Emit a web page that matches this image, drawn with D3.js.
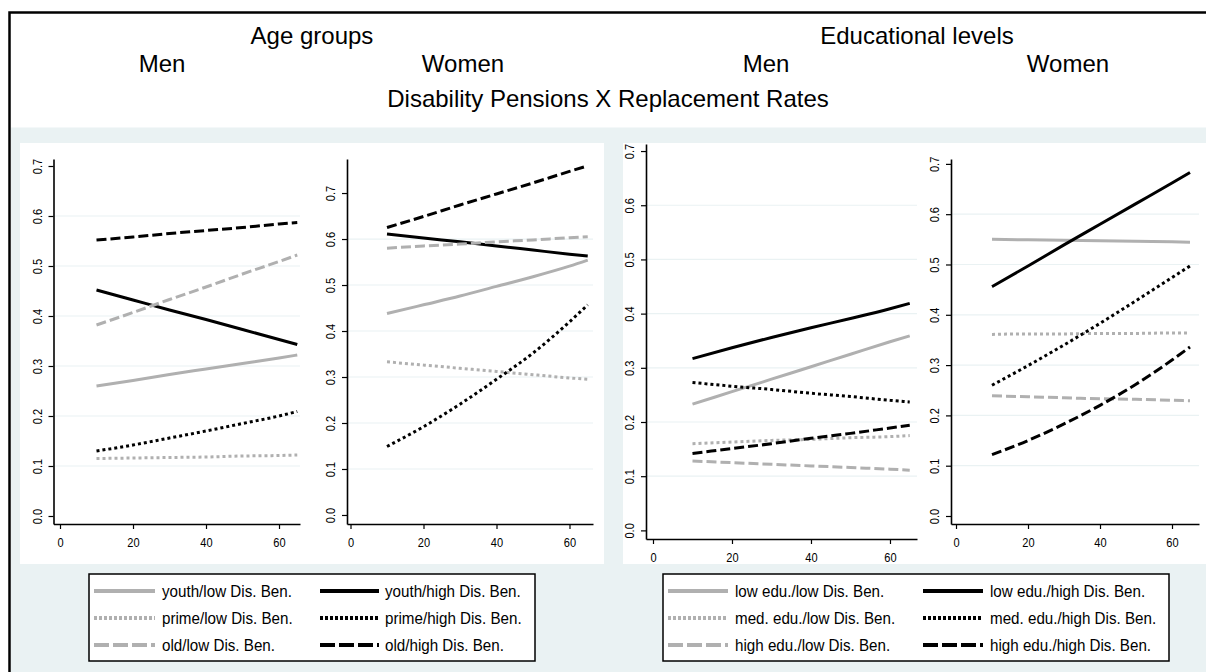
<!DOCTYPE html>
<html>
<head>
<meta charset="utf-8">
<script src="https://cdn.jsdelivr.net/npm/d3@7"></script>
<style>
  html, body { margin: 0; padding: 0; background: #ffffff; }
  svg { display: block; font-family: "Liberation Sans", Arial, sans-serif; }
</style>
</head>
<body>
<svg id="chart" width="1206" height="672"></svg>
<script>
// ---- data -------------------------------------------------------------
// replacement rate values at which the predictions are evaluated
const xValues = [10, 20, 30, 40, 50, 60, 65];

const ageLabels = [
  "youth/low Dis. Ben.", "youth/high Dis. Ben.",
  "prime/low Dis. Ben.", "prime/high Dis. Ben.",
  "old/low Dis. Ben.",   "old/high Dis. Ben."
];
const eduLabels = [
  "low edu./low Dis. Ben.",  "low edu./high Dis. Ben.",
  "med. edu./low Dis. Ben.", "med. edu./high Dis. Ben.",
  "high edu./low Dis. Ben.", "high edu./high Dis. Ben."
];

// predicted probabilities, one row per series (same order as the labels)
const menAge = [
  [0.260, 0.271, 0.283, 0.294, 0.305, 0.316, 0.322],
  [0.452, 0.432, 0.412, 0.393, 0.373, 0.353, 0.343],
  [0.115, 0.116, 0.117, 0.118, 0.120, 0.121, 0.122],
  [0.130, 0.142, 0.156, 0.170, 0.185, 0.200, 0.209],
  [0.382, 0.407, 0.433, 0.458, 0.484, 0.509, 0.522],
  [0.552, 0.558, 0.565, 0.571, 0.577, 0.584, 0.587]
];
const womenAge = [
  [0.438, 0.457, 0.476, 0.497, 0.518, 0.541, 0.554],
  [0.611, 0.602, 0.594, 0.585, 0.576, 0.567, 0.563],
  [0.333, 0.326, 0.319, 0.312, 0.305, 0.298, 0.295],
  [0.149, 0.192, 0.241, 0.295, 0.352, 0.420, 0.457],
  [0.580, 0.585, 0.589, 0.594, 0.598, 0.603, 0.605],
  [0.625, 0.649, 0.674, 0.698, 0.722, 0.747, 0.759]
];
const menEdu = [
  [0.233, 0.256, 0.279, 0.302, 0.325, 0.348, 0.359],
  [0.317, 0.337, 0.356, 0.374, 0.391, 0.409, 0.419],
  [0.160, 0.163, 0.166, 0.168, 0.171, 0.173, 0.175],
  [0.273, 0.266, 0.260, 0.253, 0.247, 0.240, 0.237],
  [0.128, 0.125, 0.122, 0.119, 0.116, 0.113, 0.111],
  [0.142, 0.151, 0.160, 0.170, 0.179, 0.189, 0.194]
];
const womenEdu = [
  [0.550, 0.549, 0.548, 0.547, 0.546, 0.545, 0.544],
  [0.456, 0.497, 0.539, 0.580, 0.621, 0.662, 0.683],
  [0.361, 0.362, 0.362, 0.363, 0.363, 0.364, 0.364],
  [0.260, 0.299, 0.340, 0.383, 0.428, 0.474, 0.497],
  [0.239, 0.237, 0.235, 0.233, 0.232, 0.230, 0.229],
  [0.122, 0.150, 0.183, 0.220, 0.262, 0.310, 0.336]
];

const xTicks = [0, 20, 40, 60];
const yTicks = [0, 0.1, 0.2, 0.3, 0.4, 0.5, 0.6, 0.7];
const gridTicks = [0.1, 0.2, 0.3, 0.4, 0.5, 0.6];

// ---- styles ------------------------------------------------------------
const GREY = "#b0b0b0";
const BG = "#eaf2f3";
const seriesColor = i => (i % 2 === 0 ? GREY : "#000000");
const seriesDash = i => [null, "3,3", "10,4"][Math.floor(i / 2)];
const legendDash = i => [null, "3,2", "15,4"][Math.floor(i / 2)];

// ---- layout -------------------------------------------------------------
const panels = [
  { values: menAge,   left: 53.5, right: 300,  top: 159, bottom: 524, xDomain: [-1.78, 65.75], yDomain: [-0.016, 0.714] },
  { values: womenAge, left: 347,  right: 593,  top: 159, bottom: 524, xDomain: [-0.96, 66.44], yDomain: [-0.0196, 0.774] },
  { values: menEdu,   left: 646,  right: 917,  top: 144, bottom: 539, xDomain: [-1.77, 66.84], yDomain: [-0.0159, 0.713] },
  { values: womenEdu, left: 951,  right: 1199, top: 159, bottom: 524, xDomain: [-1.39, 67.5],  yDomain: [-0.0159, 0.7097] }
];

const svg = d3.select("#chart");

// background regions
svg.append("rect").attr("x", 0).attr("y", 0).attr("width", 1206).attr("height", 672).attr("fill", "#ffffff");
svg.append("rect").attr("x", 11).attr("y", 127.5).attr("width", 1195).attr("height", 545).attr("fill", BG);
svg.append("rect").attr("x", 20).attr("y", 143).attr("width", 584).attr("height", 421).attr("fill", "#ffffff");
svg.append("rect").attr("x", 623).attr("y", 143).attr("width", 583).attr("height", 421).attr("fill", "#ffffff");
svg.append("rect").attr("x", 9.5).attr("y", 12.5).attr("width", 1300).attr("height", 800)
  .attr("fill", "none").attr("stroke", "#000").attr("stroke-width", 2.5);

// header titles
const header = [
  { t: "Age groups", x: 312, y: 44 },
  { t: "Educational levels", x: 917, y: 44 },
  { t: "Men", x: 162, y: 72 },
  { t: "Women", x: 463, y: 72 },
  { t: "Men", x: 766, y: 72 },
  { t: "Women", x: 1068, y: 72 },
  { t: "Disability Pensions X Replacement Rates", x: 608, y: 107 }
];
svg.append("g").selectAll("text").data(header).join("text")
  .attr("x", d => d.x).attr("y", d => d.y)
  .attr("text-anchor", "middle")
  .attr("font-size", 24).attr("fill", "#000")
  .text(d => d.t);

// panels
panels.forEach(p => {
  const x = d3.scaleLinear().domain(p.xDomain).range([p.left, p.right]);
  const y = d3.scaleLinear().domain(p.yDomain).range([p.bottom, p.top]);
  const g = svg.append("g");

  g.append("g").selectAll("line").data(gridTicks).join("line")
    .attr("x1", p.left).attr("x2", p.right)
    .attr("y1", d => y(d)).attr("y2", d => y(d))
    .attr("stroke", BG).attr("stroke-width", 1.2);

  const line = d3.line()
    .x((d, i) => x(xValues[i]))
    .y(d => y(d))
    .curve(d3.curveMonotoneX);

  g.append("g").selectAll("path").data(p.values).join("path")
    .attr("d", d => line(d))
    .attr("fill", "none")
    .attr("stroke", (d, i) => seriesColor(i))
    .attr("stroke-width", 3)
    .attr("stroke-dasharray", (d, i) => seriesDash(i));

  const xAxis = g.append("g").attr("transform", `translate(0,${p.bottom})`)
    .call(d3.axisBottom(x).tickValues(xTicks).tickSize(5).tickSizeOuter(0).tickPadding(8));
  const yAxis = g.append("g").attr("transform", `translate(${p.left},0)`)
    .call(d3.axisLeft(y).tickValues(yTicks).tickFormat(d3.format(".1f")).tickSize(5).tickSizeOuter(0));

  [xAxis, yAxis].forEach(a => {
    a.select(".domain").attr("stroke", "#000").attr("stroke-width", 1.6);
    a.selectAll(".tick line").attr("stroke", "#000").attr("stroke-width", 1.2);
    a.selectAll("text").attr("fill", "#000").attr("font-size", 13.5)
      .attr("font-family", "\"Liberation Sans\", Arial, sans-serif");
  });
  // condensed tick labels
  xAxis.selectAll(".tick text").attr("transform", "scale(0.82,1)");
  yAxis.selectAll(".tick text")
    .attr("x", null).attr("dy", "0.35em")
    .attr("text-anchor", "middle")
    .attr("transform", "translate(-16.5,0) rotate(-90) scale(0.82,1)");
});

// legends
function drawLegend(box, labels, cols) {
  const g = svg.append("g");
  g.append("rect").attr("x", box.x).attr("y", box.y).attr("width", box.w).attr("height", box.h)
    .attr("fill", "#ffffff").attr("stroke", "#000").attr("stroke-width", 1.5);
  const rows = [17, 44, 71];
  labels.forEach((lab, i) => {
    const c = cols[i % 2];
    const cy = box.y + rows[Math.floor(i / 2)];
    g.append("line")
      .attr("x1", box.x + c.s0).attr("x2", box.x + c.s1)
      .attr("y1", cy).attr("y2", cy)
      .attr("stroke", seriesColor(i)).attr("stroke-width", 4)
      .attr("stroke-dasharray", legendDash(i));
    g.append("text")
      .attr("transform", `translate(${box.x + c.t},${cy + 6}) scale(0.92,1)`)
      .attr("font-size", 16.5).attr("fill", "#000")
      .text(lab);
  });
}
drawLegend({ x: 89, y: 574, w: 446, h: 87 }, ageLabels,
  [{ s0: 5, s1: 66, t: 73 }, { s0: 231, s1: 290, t: 296 }]);
drawLegend({ x: 663, y: 574, w: 506, h: 87 }, eduLabels,
  [{ s0: 5, s1: 65, t: 72 }, { s0: 260, s1: 320, t: 327 }]);
</script>
</body>
</html>
